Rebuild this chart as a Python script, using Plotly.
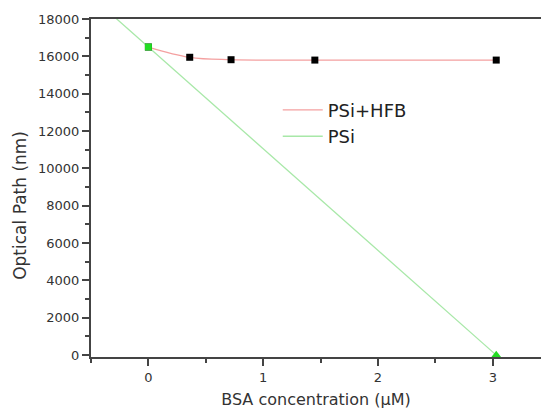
import numpy as np
import plotly.graph_objects as go

# Data
hfb_x = [0.0, 0.36, 0.72, 1.45, 3.03]
hfb_y = [16500, 15950, 15820, 15800, 15800]
psi_x = [0.0, 3.03]
psi_y = [16500, 0]

x_ticks = [0, 1, 2, 3]
y_ticks = [0, 2000, 4000, 6000, 8000, 10000, 12000, 14000, 16000, 18000]
y_minor = [1000, 3000, 5000, 7000, 9000, 11000, 13000, 15000, 17000]
x_minor = [-0.5, 0.5, 1.5, 2.5]
x_range = [-0.5, 3.42]
y_range = [-100, 18000]

# linear fit for PSi
slope, intercept = np.polyfit(psi_x, psi_y, 1)
fit_x = np.array([x_range[0], psi_x[-1]])
fit_y = slope * fit_x + intercept

font = "DejaVu Sans, sans-serif"
axcol = "#444444"
txtcol = "#333333"

fig = go.Figure()
fig.add_trace(go.Scatter(x=hfb_x, y=hfb_y, mode="lines", line=dict(color="#f4a0a0", width=1.3, shape="spline", smoothing=1.0),
                         name="PSi+HFB", showlegend=True))
fig.add_trace(go.Scatter(x=fit_x, y=fit_y, mode="lines", line=dict(color="#a8e8a8", width=1.3),
                         name="PSi", showlegend=True))
fig.add_trace(go.Scatter(x=hfb_x, y=hfb_y, mode="markers", marker=dict(symbol="square", size=7, color="black"),
                         showlegend=False, cliponaxis=False))
fig.add_trace(go.Scatter(x=psi_x[:1], y=psi_y[:1], mode="markers", marker=dict(symbol="square", size=7, color="#22dd22"),
                         showlegend=False, cliponaxis=False))
fig.add_trace(go.Scatter(x=psi_x[1:], y=psi_y[1:], mode="markers", marker=dict(symbol="triangle-up", size=9, color="#22dd22"),
                         showlegend=False, cliponaxis=False))

fig.update_layout(
    width=541, height=413,
    margin=dict(l=91, r=0, t=19, b=56),
    paper_bgcolor="white", plot_bgcolor="white",
    font=dict(family=font, color=txtcol),
    legend=dict(x=0.415, y=0.785, xanchor="left", yanchor="top", bgcolor="rgba(0,0,0,0)",
                font=dict(size=18, color="#222222"), tracegroupgap=0, itemwidth=40),
    xaxis=dict(range=x_range, tickvals=x_ticks, ticks="outside", ticklen=7, tickwidth=1.5, tickcolor=axcol,
               showline=True, linecolor=axcol, linewidth=2, mirror=True, showgrid=False, zeroline=False,
               tickfont=dict(size=13, color=txtcol),
               minor=dict(tickvals=x_minor, ticks="outside", ticklen=4, tickcolor=axcol),
               title=dict(text="BSA concentration (\u03bcM)", font=dict(size=16, color=txtcol), standoff=10)),
    yaxis=dict(range=y_range, tickvals=y_ticks, ticktext=[str(v) for v in y_ticks], ticks="outside", ticklen=7,
               tickwidth=1.5, tickcolor=axcol,
               showline=True, linecolor=axcol, linewidth=2, showgrid=False, zeroline=False,
               tickfont=dict(size=13, color=txtcol),
               minor=dict(tickvals=y_minor, ticks="outside", ticklen=4, tickcolor=axcol)),
    annotations=[dict(text="Optical Path (nm)", textangle=-90, xref="paper", yref="paper",
                      x=-0.158, y=0.45, xanchor="center", yanchor="middle", showarrow=False,
                      font=dict(size=17, color=txtcol))],
)

fig.write_html("out.html")
